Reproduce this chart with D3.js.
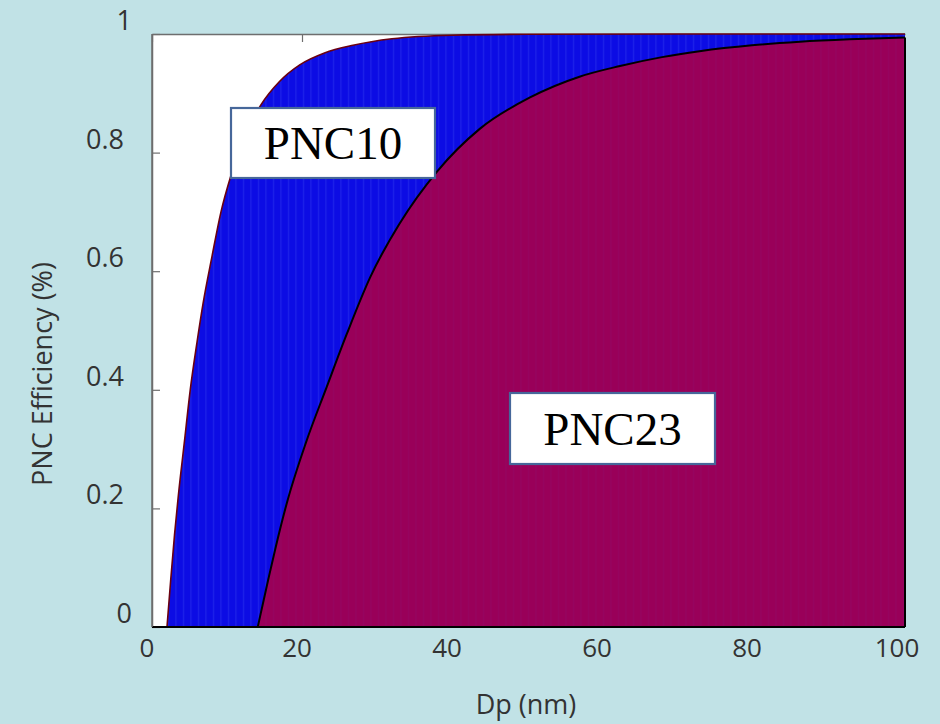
<!DOCTYPE html>
<html>
<head>
<meta charset="utf-8">
<script src="https://cdn.jsdelivr.net/npm/d3@7"></script>
<style>
  body { margin: 0; background: #c1e2e6; }
  svg { display: block; }
</style>
</head>
<body>
<svg id="chart" width="940" height="724"></svg>
<script>
// values
var pnc10Dp  = [2.0, 2.5, 3.0, 3.5, 4.3, 5.1, 6.0, 6.8, 8.0, 9.2, 10.5, 12.0, 14.5, 17, 19.7, 23, 26.8, 32, 40, 50, 70, 100.4];
var pnc10Eff = [0, 0.08, 0.155, 0.22, 0.31, 0.40, 0.48, 0.545, 0.625, 0.70, 0.76, 0.815, 0.88, 0.92, 0.948, 0.968, 0.981, 0.992, 0.998, 0.9995, 1.0, 1.0];

var pnc23Dp  = [14.1, 15.5, 16.5, 18, 20.5, 23.3, 26, 29.1, 33, 38, 43.7, 50.4, 57, 62.4, 68, 73, 80, 86.4, 93, 100.4];
var pnc23Eff = [0, 0.08, 0.135, 0.21, 0.31, 0.405, 0.495, 0.59, 0.68, 0.768, 0.84, 0.893, 0.928, 0.946, 0.961, 0.971, 0.981, 0.987, 0.991, 0.994];

var xTicks = [0, 20, 40, 60, 80, 100];
var yTicks = [0, 0.2, 0.4, 0.6, 0.8, 1];
var labels = ["PNC10", "PNC23"];

var svg = d3.select("#chart");
var plotLeft = 152, plotRight = 905, plotTop = 34, plotBottom = 627;

var x = d3.scaleLinear().domain([0, 100.4]).range([plotLeft, plotRight]);
var y = d3.scaleLinear().domain([0, 1]).range([plotBottom, plotTop]);

svg.append("rect").attr("width", 940).attr("height", 724).attr("fill", "#c1e2e6");
svg.append("rect")
  .attr("x", plotLeft).attr("y", plotTop)
  .attr("width", plotRight - plotLeft).attr("height", plotBottom - plotTop)
  .attr("fill", "white");

// stripe pattern (the fills were drawn as many thin bars)
var defs = svg.append("defs");
function stripes(id, color, light) {
  var p = defs.append("pattern").attr("id", id)
    .attr("patternUnits", "userSpaceOnUse").attr("width", 7.5).attr("height", 10);
  p.append("rect").attr("width", 7.5).attr("height", 10).attr("fill", color);
  p.append("rect").attr("x", 3).attr("width", 1).attr("height", 10).attr("fill", light).attr("opacity", 0.35);
}
stripes("blueFill", "#0c0ce4", "#4a5cf0");
stripes("redFill", "#990059", "#8a1070");

// axes (drawn below the areas, like the original)
var axisColor = "#6e6e6e";
var gTop = svg.append("g").attr("transform", "translate(0," + plotTop + ")")
  .call(d3.axisBottom(x).tickValues(xTicks).tickSize(8).tickSizeOuter(0).tickFormat(""));
var gLeft = svg.append("g").attr("transform", "translate(" + plotLeft + ",0)")
  .call(d3.axisRight(y).tickValues(yTicks).tickSize(8).tickSizeOuter(0).tickFormat(""));
[gTop, gLeft].forEach(function (g) {
  g.select(".domain").attr("stroke", axisColor).attr("stroke-width", 1.5);
  g.selectAll(".tick line").attr("stroke", axisColor).attr("stroke-width", 1.2);
});

var pts10 = pnc10Dp.map(function (d, i) { return [d, pnc10Eff[i]]; });
var pts23 = pnc23Dp.map(function (d, i) { return [d, pnc23Eff[i]]; });

var area = d3.area()
  .x(function (d) { return x(d[0]); })
  .y0(y(0))
  .y1(function (d) { return y(d[1]); })
  .curve(d3.curveMonotoneX);
var line = d3.line()
  .x(function (d) { return x(d[0]); })
  .y(function (d) { return y(d[1]); })
  .curve(d3.curveMonotoneX);

svg.append("path").datum(pts10).attr("d", area).attr("fill", "url(#blueFill)");
svg.append("path").datum(pts10).attr("d", line)
  .attr("fill", "none").attr("stroke", "#6a0010").attr("stroke-width", 1.6);

svg.append("path").datum(pts23).attr("d", area).attr("fill", "url(#redFill)");
svg.append("path").datum(pts23).attr("d", line)
  .attr("fill", "none").attr("stroke", "#000").attr("stroke-width", 2);

// right and bottom outlines of the filled areas
svg.append("line")
  .attr("x1", x(100.4)).attr("x2", x(100.4))
  .attr("y1", y(pnc23Eff[pnc23Eff.length - 1])).attr("y2", y(0))
  .attr("stroke", "#000").attr("stroke-width", 2);
svg.append("line")
  .attr("x1", plotLeft).attr("x2", plotRight)
  .attr("y1", y(0)).attr("y2", y(0))
  .attr("stroke", "#000").attr("stroke-width", 2);
svg.append("line")
  .attr("x1", plotLeft).attr("x2", plotLeft)
  .attr("y1", plotTop).attr("y2", plotBottom)
  .attr("stroke", axisColor).attr("stroke-width", 1.5);

// tick labels
var tickFont = "'Open Sans', 'Noto Sans', sans-serif";
svg.append("g").selectAll("text")
  .data(xTicks).enter().append("text")
  .attr("x", function (d) { return x(d) - 5; })
  .attr("y", 657)
  .attr("text-anchor", "middle")
  .attr("font-family", tickFont).attr("font-size", 26)
  .attr("fill", "#333")
  .text(function (d) { return d; });

svg.append("g").selectAll("text")
  .data(yTicks).enter().append("text")
  .attr("x", function (d) { return (d === 0 || d === 1) ? 132 : 124; })
  .attr("y", function (d) { return y(d) - 4; })
  .attr("text-anchor", "end")
  .attr("font-family", tickFont).attr("font-size", 27)
  .attr("fill", "#333")
  .text(function (d) { return d; });

svg.append("text")
  .attr("x", 526).attr("y", 714)
  .attr("text-anchor", "middle")
  .attr("font-family", tickFont).attr("font-size", 27)
  .attr("fill", "#333")
  .text("Dp (nm)");

svg.append("text")
  .attr("transform", "translate(52,374) rotate(-90)")
  .attr("text-anchor", "middle")
  .attr("font-family", tickFont).attr("font-size", 27)
  .attr("fill", "#333")
  .text("PNC Efficiency (%)");

// label boxes
var boxes = [
  { x: 231, y: 108, w: 204, h: 70 },
  { x: 510, y: 393, w: 205, h: 71 }
];
boxes.forEach(function (b, i) {
  svg.append("rect")
    .attr("x", b.x).attr("y", b.y).attr("width", b.w).attr("height", b.h)
    .attr("fill", "white").attr("stroke", "#46679a").attr("stroke-width", 2.2);
  svg.append("text")
    .attr("x", b.x + b.w / 2).attr("y", b.y + b.h / 2 + 16)
    .attr("text-anchor", "middle")
    .attr("font-family", "'Liberation Serif', 'Times New Roman', serif")
    .attr("font-size", 47)
    .attr("fill", "#000")
    .text(labels[i]);
});
</script>
</body>
</html>
